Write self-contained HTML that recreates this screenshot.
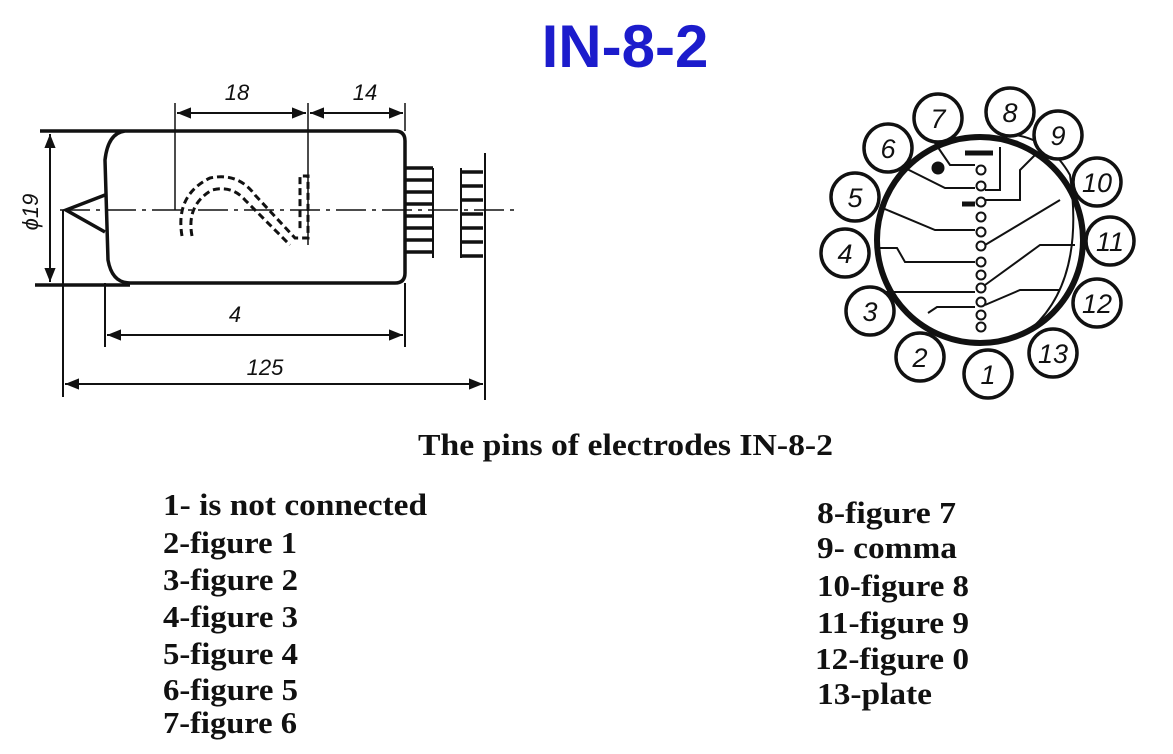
<!DOCTYPE html>
<html><head><meta charset="utf-8"><style>
html,body{margin:0;padding:0;background:#fff;width:1173px;height:754px;overflow:hidden}
svg{display:block}
.s{font-family:"Liberation Serif",serif;font-weight:bold;font-size:31px;fill:#111}
.h{font-family:"Liberation Sans",sans-serif;font-style:italic;font-size:22px;fill:#111}
</style></head><body>
<svg width="1173" height="754" viewBox="0 0 1173 754" xmlns="http://www.w3.org/2000/svg">
<defs><marker id="a" viewBox="0 0 10 10" refX="10" refY="5" markerWidth="9" markerHeight="7" orient="auto-start-reverse"><path d="M0,1 L10,5 L0,9 z" fill="#111"/></marker></defs>
<text x="625" y="67" text-anchor="middle" font-family="Liberation Sans,sans-serif" font-weight="bold" font-size="60" fill="#1c1ccc">IN-8-2</text>

<g stroke="#111" fill="none" stroke-width="3.5">
<path d="M40,131 H395 Q405,131 405,141 V273 Q405,283 395,283 H130 Q112,283 108,260 L105,160 Q108,133 125,131"/>
<path d="M35,285 H130" />
<path d="M105,195 L66,210 L105,232"/>
<path d="M433,168 V258 M461,168 V258" stroke-width="2"/>
<path d="M405,168 H433 M405,180 H433 M405,192 H433 M405,204 H433 M405,216 H433 M405,228 H433 M405,240 H433 M405,252 H433 M461,172 H483 M461,186 H483 M461,200 H483 M461,214 H483 M461,228 H483 M461,242 H483 M461,256 H483" stroke-width="3.5"/>
<path d="M485,153 V400" stroke-width="2"/>
<path d="M60,210 H515" stroke-width="1.5" stroke-dasharray="30,6,4,6"/>
<path d="M175,103 V210 M308,103 V245 M405,103 V131" stroke-width="1.5"/>
<path d="M177,113 H306" stroke-width="2" marker-start="url(#a)" marker-end="url(#a)"/>
<path d="M310,113 H403" stroke-width="2" marker-start="url(#a)" marker-end="url(#a)"/>
<path d="M50,134 V282" stroke-width="2" marker-start="url(#a)" marker-end="url(#a)"/>
<path d="M105,283 V347 M405,283 V347 M63,210 V397" stroke-width="2"/>
<path d="M107,335 H403" stroke-width="2" marker-start="url(#a)" marker-end="url(#a)"/>
<path d="M65,384 H483" stroke-width="2" marker-start="url(#a)" marker-end="url(#a)"/>
<path d="M182,236 Q175,195 210,178 Q238,172 255,195 L295,238 L308,238 V176 H300 V232" stroke-dasharray="7,4" stroke-width="3"/>
<path d="M192,236 Q186,205 212,190 Q232,185 245,200 L290,245" stroke-dasharray="7,4" stroke-width="3"/>
</g>
<text class="h" x="237" y="100" text-anchor="middle">18</text>
<text class="h" x="365" y="100" text-anchor="middle">14</text>
<text class="h" x="235" y="322" text-anchor="middle">4</text>
<text class="h" x="265" y="375" text-anchor="middle">125</text>
<text class="h" transform="translate(38,212) rotate(-90)" text-anchor="middle">ϕ19</text>

<g stroke="#111" fill="none">
<circle cx="980" cy="240" r="103" stroke-width="6"/>
<path d="M1032,328 Q1085,280 1070,175 Q1050,140 1015,135" stroke-width="2"/>
<path d="M935,143 L950,165 H975 M905,168 L945,188 H975 M880,207 L935,230 H975 M880,248 H897 L905,262 H975 M882,292 H975 M928,313 L937,307 H975 M1000,147 V190 H985 M1035,155 L1020,170 V200 H985 M1060,200 L985,245 M1075,245 H1040 L985,285 M1060,290 H1020 L985,305" stroke-width="2"/>
<path d="M965,153 H993 M962,204 H975" stroke-width="5"/>
<g stroke-width="2" fill="#fff">
<circle cx="981" cy="170" r="4.5"/><circle cx="981" cy="186" r="4.5"/><circle cx="981" cy="202" r="4.5"/><circle cx="981" cy="217" r="4.5"/><circle cx="981" cy="232" r="4.5"/><circle cx="981" cy="246" r="4.5"/><circle cx="981" cy="262" r="4.5"/><circle cx="981" cy="275" r="4.5"/><circle cx="981" cy="288" r="4.5"/><circle cx="981" cy="302" r="4.5"/><circle cx="981" cy="315" r="4.5"/><circle cx="981" cy="327" r="4.5"/>
</g>
<circle cx="938" cy="168" r="6" fill="#111"/>
<g stroke-width="3.5" fill="#fff">
<circle cx="938" cy="118" r="24"/><circle cx="1010" cy="112" r="24"/><circle cx="1058" cy="135" r="24"/><circle cx="1097" cy="182" r="24"/><circle cx="1110" cy="241" r="24"/><circle cx="1097" cy="303" r="24"/><circle cx="1053" cy="353" r="24"/><circle cx="988" cy="374" r="24"/><circle cx="920" cy="357" r="24"/><circle cx="870" cy="311" r="24"/><circle cx="845" cy="253" r="24"/><circle cx="855" cy="197" r="24"/><circle cx="888" cy="148" r="24"/>
</g>
</g>
<g class="h" text-anchor="middle" style="font-size:27px">
<text x="938" y="128">7</text><text x="1010" y="122">8</text><text x="1058" y="145">9</text><text x="1097" y="192">10</text><text x="1110" y="251">11</text><text x="1097" y="313">12</text><text x="1053" y="363">13</text><text x="988" y="384">1</text><text x="920" y="367">2</text><text x="870" y="321">3</text><text x="845" y="263">4</text><text x="855" y="207">5</text><text x="888" y="158">6</text>
</g>

<text class="s" x="418" y="455" textLength="415" lengthAdjust="spacingAndGlyphs">The pins of electrodes IN-8-2</text>
<text class="s" x="163" y="515" textLength="264" lengthAdjust="spacingAndGlyphs">1- is not connected</text>
<text class="s" x="163" y="553" textLength="134" lengthAdjust="spacingAndGlyphs">2-figure 1</text>
<text class="s" x="163" y="590" textLength="135" lengthAdjust="spacingAndGlyphs">3-figure 2</text>
<text class="s" x="163" y="627" textLength="135" lengthAdjust="spacingAndGlyphs">4-figure 3</text>
<text class="s" x="163" y="664" textLength="135" lengthAdjust="spacingAndGlyphs">5-figure 4</text>
<text class="s" x="163" y="700" textLength="135" lengthAdjust="spacingAndGlyphs">6-figure 5</text>
<text class="s" x="163" y="733" textLength="134" lengthAdjust="spacingAndGlyphs">7-figure 6</text>
<text class="s" x="817" y="523" textLength="139" lengthAdjust="spacingAndGlyphs">8-figure 7</text>
<text class="s" x="817" y="558" textLength="140" lengthAdjust="spacingAndGlyphs">9- comma</text>
<text class="s" x="817" y="596" textLength="152" lengthAdjust="spacingAndGlyphs">10-figure 8</text>
<text class="s" x="817" y="633" textLength="152" lengthAdjust="spacingAndGlyphs">11-figure 9</text>
<text class="s" x="815" y="669" textLength="154" lengthAdjust="spacingAndGlyphs">12-figure 0</text>
<text class="s" x="817" y="704" textLength="115" lengthAdjust="spacingAndGlyphs">13-plate</text>
</svg>
</body></html>
